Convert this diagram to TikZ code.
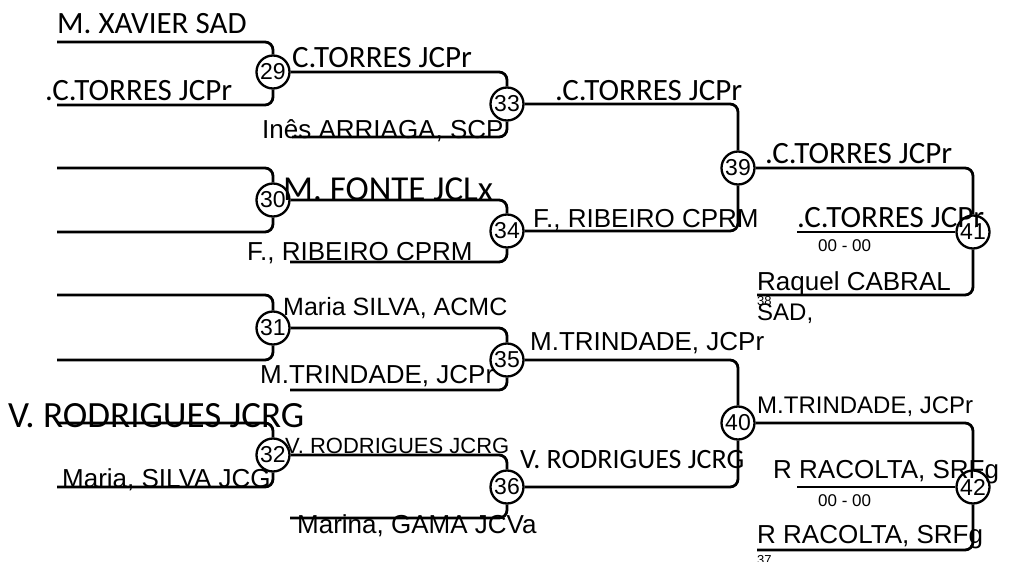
\documentclass[tikz,border=0pt]{standalone}
\usepackage{fontspec}
\setmainfont{Liberation Sans}
\newfontfamily\calibri{Carlito}
\usetikzlibrary{positioning}

\begin{document}
\begin{tikzpicture}[x=1pt, y=-1pt]
		
		\tikzstyle{game}=[circle, draw, line width=2.3pt, minimum size=33pt, inner sep=0pt, font=\fontsize{23}{23}\selectfont]
		\tikzstyle{bar}=[line width=2.8pt, rounded corners=8pt]
		\tikzstyle{player}=[anchor=base west, inner sep=0pt, font=\fontsize{26}{26}\selectfont]
		\tikzstyle{cplayer}=[anchor=base west, inner sep=0pt, font=\calibri\fontsize{31}{31}\selectfont]
		\tikzstyle{score}=[anchor=base west, inner sep=0pt, font=\fontsize{17}{17}\selectfont]
		\tikzstyle{seednum}=[anchor=base west, inner sep=0pt, font=\fontsize{13}{13}\selectfont]
		
		\useasboundingbox (0,0) rectangle (1010,562);
		
		% games
		\node[game] (g29) at (273,72)  {29};
		\node[game] (g30) at (273,200) {30};
		\node[game] (g31) at (273,328) {31};
		\node[game] (g32) at (273,455) {32};
		\node[game] (g33) at (507,104) {33};
		\node[game] (g34) at (507,231) {34};
		\node[game] (g35) at (507,360) {35};
		\node[game] (g36) at (507,487) {36};
		\node[game] (g39) at (738,168) {39};
		\node[game] (g40) at (738,423) {40};
		\node[game] (g41) at (973,232) {41};
		\node[game] (g42) at (973,487) {42};
		
		% free ends
		\coordinate (t29) at (57,42);
		\coordinate (b29) at (57,105);
		\coordinate (t30) at (57,168);
		\coordinate (b30) at (57,232);
		\coordinate (t31) at (57,295);
		\coordinate (b31) at (57,360);
		\coordinate (t32) at (57,423);
		\coordinate (b32) at (57,487);
		\coordinate (b33) at (292,137);
		\coordinate (b34) at (290,262);
		\coordinate (b35) at (290,390);
		\coordinate (b36) at (290,518);
		\coordinate (c41) at (797,232);
		\coordinate (b41) at (757,295);
		\coordinate (c42) at (797,487);
		\coordinate (b42) at (757,550);
		
		% bracket lines
		\draw[bar] (t29) -| (g29);
		\draw[bar] (b29) -| (g29);
		\draw[bar] (t30) -| (g30);
		\draw[bar] (b30) -| (g30);
		\draw[bar] (t31) -| (g31);
		\draw[bar] (b31) -| (g31);
		\draw[bar] (t32) -| (g32);
		\draw[bar] (b32) -| (g32);
		
		\draw[bar] (g29) -| (g33);
		\draw[bar] (b33) -| (g33);
		\draw[bar] (g30) -| (g34);
		\draw[bar] (b34) -| (g34);
		\draw[bar] (g31) -| (g35);
		\draw[bar] (b35) -| (g35);
		\draw[bar] (g32) -| (g36);
		\draw[bar] (b36) -| (g36);
		
		\draw[bar] (g33) -| (g39);
		\draw[bar] (g34) -| (g39);
		\draw[bar] (g35) -| (g40);
		\draw[bar] (g36) -| (g40);
		
		\draw[bar] (g39) -| (g41);
		\draw[bar] (b41) -| (g41);
		\draw[bar] (c41) -- (g41);
		\draw[bar] (g40) -| (g42);
		\draw[bar] (b42) -| (g42);
		\draw[bar] (c42) -- (g42);
		
		% players
		\node[cplayer] (p1) at (57,33)  {M. XAVIER SAD};
		\node[cplayer] (p2) at (45,100) {.C.TORRES JCPr};
		\node[cplayer] (p3) at (292,67) {C.TORRES JCPr};
		\node[player]  (p4) at (262,138) {Inês ARRIAGA, SCP};
		\node[cplayer] (p5) at (555,100) {.C.TORRES JCPr};
		\node[cplayer] (p6) at (765,163) {.C.TORRES JCPr};
		\node[cplayer, font=\calibri\fontsize{35}{35}\selectfont] (p7) at (283,200) {M. FONTE JCLx};
		\node[player]  (p8) at (247,260) {F., RIBEIRO CPRM};
		\node[player]  (p9) at (533,227) {F., RIBEIRO CPRM};
		\node[player, font=\fontsize{25}{25}\selectfont] (p10) at (283,315) {Maria SILVA, ACMC};
		\node[player]  (p11) at (260,383) {M.TRINDADE, JCPr};
		\node[cplayer, font=\calibri\fontsize{37}{37}\selectfont] (p12) at (8,427) {V. RODRIGUES JCRG};
		\node[player]  (p13) at (62,487) {Maria, SILVA JCG};
		\node[player, font=\fontsize{22}{22}\selectfont] (p14) at (285,453) {V. RODRIGUES JCRG};
		\node[player]  (p15) at (297,533) {Marina, GAMA JCVa};
		\node[player]  (p16) at (530,350) {M.TRINDADE, JCPr};
		\node[cplayer, font=\calibri\fontsize{28}{28}\selectfont] (p17) at (520,468) {V. RODRIGUES JCRG};
		\node[player, font=\fontsize{24}{24}\selectfont] (p18) at (757,413) {M.TRINDADE, JCPr};
		\node[player]  (p19) at (773,478) {R RACOLTA, SRFg};
		\node[player]  (p20) at (757,543) {R RACOLTA, SRFg};
		\node[cplayer] (p21) at (797,227) {.C.TORRES JCPr};
		\node[player]  (p22) at (757,290) {Raquel CABRAL};
		\node[player, font=\fontsize{24}{24}\selectfont] (p23) at (757,320) {SAD,};
		
		% scores and seeds
		\node[score]   (s41) at (818,251) {00 - 00};
		\node[score]   (s42) at (818,506) {00 - 00};
		\node[seednum] (n38) at (757,305) {38};
		\node[seednum] (n37) at (757,564) {37};
		
\end{tikzpicture}
\end{document}
